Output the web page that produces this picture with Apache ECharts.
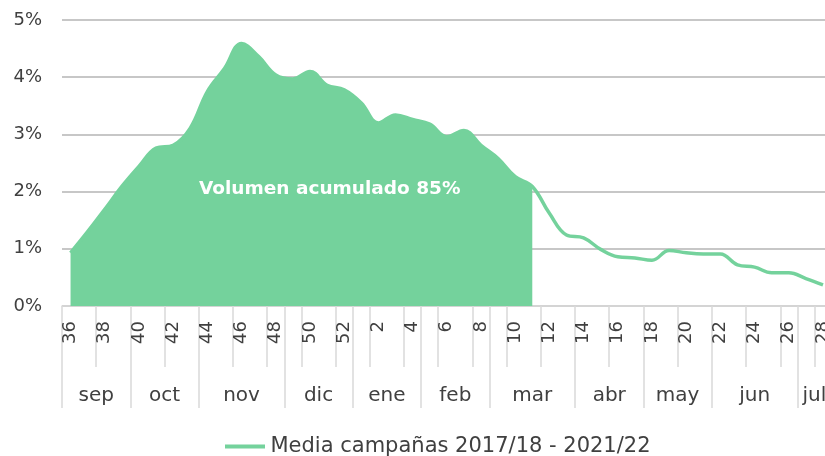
<!DOCTYPE html>
<html>
<head>
<meta charset="utf-8">
<script src="https://cdn.jsdelivr.net/npm/echarts@6/dist/echarts.min.js"></script>
<style>
    html, body { margin: 0; padding: 0; background: #fff; overflow: hidden; }
    /* the original picture is cut on the right, so the canvas is a bit wider than the window */
    #chart { width: 832px; height: 456px; }
</style>
</head>
<body>
<div id="chart"></div>
<script>
// semanas de campaña (36..52, 1..28)
const weeks = ['36','37','38','39','40','41','42','43','44','45','46','47','48','49','50','51','52',
    '1','2','3','4','5','6','7','8','9','10','11','12','13','14','15','16','17','18','19','20',
    '21','22','23','24','25','26','27','28'];
// % volumen semanal, media campañas
const media = [0.93, 1.30, 1.69, 2.09, 2.44, 2.76, 2.81, 3.11, 3.75, 4.15, 4.59, 4.36, 4.04,
    3.97, 4.10, 3.86, 3.78, 3.55, 3.20, 3.34, 3.26, 3.18, 2.96, 3.07, 2.81, 2.58, 2.26, 2.09,
    1.62, 1.24, 1.19, 0.99, 0.86, 0.84, 0.80, 0.97, 0.93, 0.91, 0.91, 0.72, 0.68, 0.58, 0.58,
    0.48, 0.37];
// hasta semana 11 -> volumen acumulado
const lastAccumWeek = '11';
const months = ['sep','oct','nov','dic','ene','feb','mar','abr','may','jun','jul'];
const monthWeeks = [4, 4, 5, 4, 4, 4, 5, 4, 4, 5, 2];
const seriesName = 'Media campañas 2017/18 - 2021/22';
const accumText = 'Volumen acumulado 85%';

const green = '#74d29c';
const textColor = '#404040';
const font = '"DejaVu Sans", sans-serif';

const accumIdx = weeks.indexOf(lastAccumWeek);
const accumData = media.map((v, i) => i <= accumIdx ? v : null);

// eje de meses en medias semanas
const halfSlots = [];
const monthBounds = new Set([0]);
let pos = 0;
months.forEach((m, i) => {
    const center = pos * 2 + monthWeeks[i];
    halfSlots[center] = m;
    pos += monthWeeks[i];
    monthBounds.add(pos * 2);
});
const monthAxisData = [];
for (let i = 0; i <= weeks.length * 2; i++) monthAxisData.push(halfSlots[i] || '');

const chart = echarts.init(document.getElementById('chart'));
chart.setOption({
    backgroundColor: '#fff',
    animation: false,
    textStyle: { fontFamily: font },
    grid: { left: 62, top: 20, right: 0, bottom: 150 },
    legend: {
        left: 220,
        top: 431,
        icon: 'path://M0,0 L40,0 L40,4 L0,4 Z',
        itemWidth: 41,
        itemHeight: 4,
        itemGap: 8,
        data: [seriesName],
        textStyle: { color: textColor, fontSize: 21, fontFamily: font }
    },
    xAxis: [
        {
            type: 'category',
            data: weeks,
            boundaryGap: true,
            axisLine: { lineStyle: { color: '#d9d9d9', width: 1.5 } },
            axisTick: { show: true, length: 61, lineStyle: { color: '#d9d9d9', width: 1.5 } },
            axisLabel: {
                interval: 1,
                rotate: 90,
                margin: 15,
                color: textColor,
                fontSize: 18,
                fontFamily: font
            }
        },
        {
            type: 'category',
            data: monthAxisData,
            position: 'bottom',
            boundaryGap: false,
            axisLine: { show: false },
            axisTick: {
                show: true,
                length: 102,
                interval: (i) => monthBounds.has(i),
                lineStyle: { color: '#d9d9d9', width: 1.5 }
            },
            axisLabel: {
                interval: (i, v) => v !== '',
                margin: 80,
                color: textColor,
                fontSize: 20,
                fontFamily: font
            }
        }
    ],
    yAxis: {
        type: 'value',
        min: 0,
        max: 5,
        interval: 1,
        axisLine: { show: false },
        axisTick: { show: false },
        axisLabel: {
            formatter: '{value}%',
            margin: 20,
            color: textColor,
            fontSize: 18,
            fontFamily: font
        },
        splitLine: { lineStyle: { color: '#b4b4b4', width: 1.5 } }
    },
    graphic: [{
        type: 'text',
        left: 199,
        top: 180,
        z: 100,
        style: {
            text: accumText,
            fill: '#fff',
            font: 'bold 18.5px ' + font
        }
    }],
    series: [
        {
            name: 'acumulado',
            type: 'line',
            data: accumData,
            smooth: 0.4,
            symbol: 'none',
            lineStyle: { width: 0 },
            areaStyle: { color: green, opacity: 1 },
            itemStyle: { color: green },
            z: 1
        },
        {
            name: seriesName,
            type: 'line',
            data: media,
            smooth: 0.4,
            symbol: 'none',
            lineStyle: { color: green, width: 3.5 },
            itemStyle: { color: green },
            z: 2
        }
    ]
});
</script>
</body>
</html>
